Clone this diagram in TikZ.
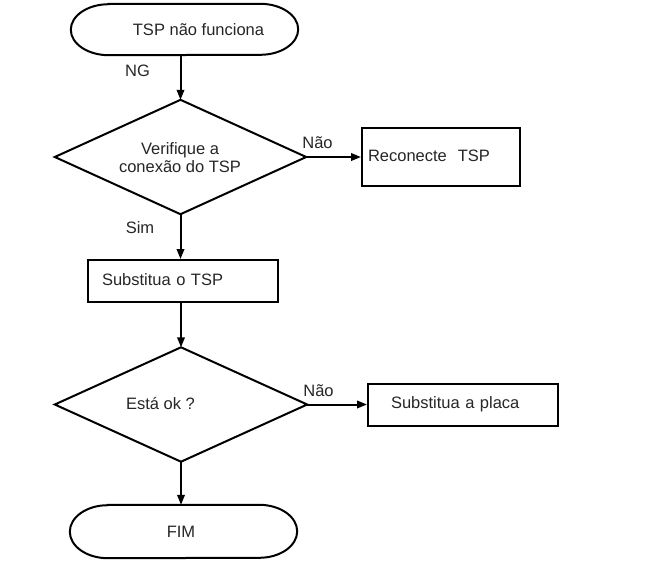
\documentclass[tikz,border=0pt]{standalone}
\usepackage{fontspec}
\setmainfont{Liberation Sans}
\usetikzlibrary{arrows.meta}
\begin{document}
\begin{tikzpicture}[x=1pt,y=1pt,
  every node/.style={font=\fontsize{16.5}{17.5}\selectfont, inner sep=0pt, text=black!85},
  ln/.style={line width=2pt, line join=miter},
  arr/.style={ln, -{Triangle[length=10pt,width=7.5pt]}},
  shapebox/.style={draw=none},
  procbox/.style={draw, ln, align=left, inner ysep=0pt, text height=12pt, text depth=3.5pt}]
\useasboundingbox (0,0) rectangle (649,-574);
\fill[white] (0,0) rectangle (649,-574);

% start terminal
\node[shapebox, minimum width=227pt, minimum height=51pt] (start) at (184.5,-29.5) {};
\draw[ln] ([xshift=38pt]start.north west) -- ([xshift=-38pt]start.north east)
  arc[start angle=90, end angle=-90, x radius=38pt, y radius=25.5pt]
  -- ([xshift=38pt]start.south west)
  arc[start angle=270, end angle=90, x radius=38pt, y radius=25.5pt] -- cycle;
\node[anchor=base] (starttxt) at (198.5,-35) {TSP não funciona};

% decision 1
\node[shapebox, minimum width=251pt, minimum height=114pt] (d1) at (180.5,-157) {};
\draw[ln] (d1.north) -- (d1.east) -- (d1.south) -- (d1.west) -- cycle;
\node[align=center] (d1txt) at (180,-157.5) {Verifique a\\conexão do TSP};

% box reconecte
\node[procbox, inner xsep=6pt, text width=146pt, minimum height=58pt] (b1) at (441,-157) {Reconecte\ \ TSP};

% box substitua o TSP
\node[procbox, inner xsep=14pt, text width=162pt, minimum height=42pt] (b2) at (183,-281) {Substitua o TSP};

% decision 2
\node[shapebox, minimum width=252pt, minimum height=114pt] (d2) at (181,-404.5) {};
\draw[ln] (d2.north) -- (d2.east) -- (d2.south) -- (d2.west) -- cycle;
\node[anchor=base] (d2txt) at (160.5,-409) {Está ok ?};

% box substitua a placa
\node[procbox, inner xsep=23pt, text width=144pt, minimum height=42pt] (b3) at (463,-404.5) {Substitua a placa};

% end terminal
\node[shapebox, minimum width=227pt, minimum height=53pt] (fim) at (183.5,-531.5) {};
\draw[ln] ([xshift=38pt]fim.north west) -- ([xshift=-38pt]fim.north east)
  arc[start angle=90, end angle=-90, x radius=38pt, y radius=26.5pt]
  -- ([xshift=38pt]fim.south west)
  arc[start angle=270, end angle=90, x radius=38pt, y radius=26.5pt] -- cycle;
\node[anchor=base] (fimtxt) at (181,-537) {FIM};

% connectors
\draw[arr] (d1.north |- start.south) -- (d1.north);
\draw[arr] (d1.east) -- (b1.west);
\draw[arr] (d1.south) -- (d1.south |- b2.north);
\draw[arr] (d2.north |- b2.south) -- (d2.north);
\draw[arr] (d2.east) -- (b3.west);
\draw[arr] (d2.south) -- (d2.south |- fim.north);

% labels
\node[anchor=base] (ng) at (137.5,-76) {NG};
\node[anchor=base] (nao1) at (317.5,-148) {Não};
\node[anchor=base] (sim) at (140,-233) {Sim};
\node[anchor=base] (nao2) at (318.5,-396) {Não};
\end{tikzpicture}
\end{document}
